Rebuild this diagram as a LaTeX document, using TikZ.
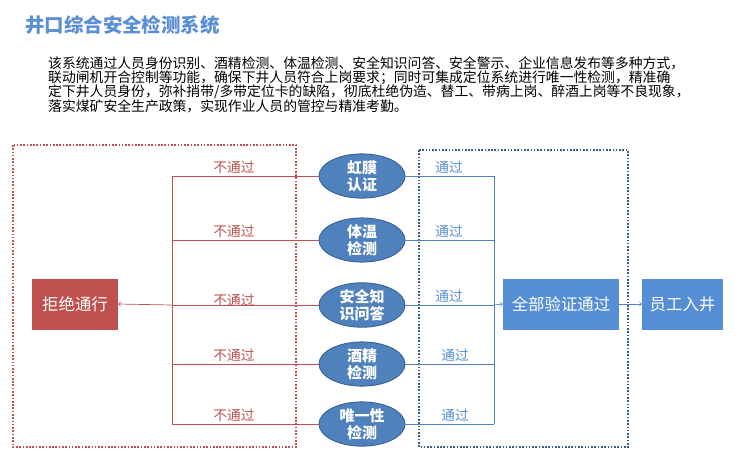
\documentclass[tikz,border=0pt]{standalone}
\usepackage{fontspec}
\usetikzlibrary{shapes.geometric}
\newfontfamily\cjk{Noto Sans CJK SC}
\definecolor{titleblue}{HTML}{5A8ED6}
\definecolor{ellblue}{HTML}{4F81BD}
\definecolor{ellborder}{HTML}{3A6292}
\definecolor{boxblue}{HTML}{558ED5}
\definecolor{boxred}{HTML}{C0504D}
\definecolor{frameblue}{HTML}{385D8A}
\begin{document}
\begin{tikzpicture}[x=0.03cm,y=-0.03cm,every node/.style={font=\cjk},
  para/.style={anchor=west,inner sep=0pt,font=\cjk\fontsize{11.8pt}{14pt}\selectfont},
  check/.style={ellipse,draw=ellborder,line width=0.8pt,fill=ellblue,text=white,minimum width=2.58cm,minimum height=1.26cm,inner sep=0pt,align=center,font=\cjk\bfseries\fontsize{12.8pt}{14.5pt}\selectfont},
  result/.style={fill=#1,text=white,minimum height=1.53cm,inner sep=0pt,font=\cjk\fontsize{14pt}{16pt}\selectfont},
  failline/.style={boxred,line width=0.6pt},
  passline/.style={ellblue,line width=0.6pt},
  faillbl/.style={anchor=base,inner sep=0pt,text=boxred,font=\cjk\fontsize{11.7pt}{13pt}\selectfont},
  passlbl/.style={anchor=base,inner sep=0pt,text=boxblue,font=\cjk\fontsize{11.7pt}{13pt}\selectfont}]
\useasboundingbox (0,0) rectangle (741,470);
% Title and text
\node[anchor=west,inner sep=0pt,text=titleblue,font=\cjk\bfseries\fontsize{16.6pt}{18pt}\selectfont] (title) at (25,25) {井口综合安全检测系统};
\node[para] (l1) at (48,63) {该系统通过人员身份识别、酒精检测、体温检测、安全知识问答、安全警示、企业信息发布等多种方式，};
\node[para] (l2) at (48,78) {联动闸机开合控制等功能，确保下井人员符合上岗要求；同时可集成定位系统进行唯一性检测，精准确};
\node[para] (l3) at (48,92) {定下井人员身份，弥补捎带/多带定位卡的缺陷，彻底杜绝伪造、替工、带病上岗、醉酒上岗等不良现象，};
\node[para] (l4) at (48,106) {落实煤矿安全生产政策，实现作业人员的管控与精准考勤。};
% Frames
\draw[boxred,line width=1.4pt,dash pattern=on 1.4pt off 1.4pt] (13,145) rectangle (296,447);
\draw[frameblue,line width=1.4pt,dash pattern=on 1.4pt off 1.4pt] (419,150) rectangle (628,447);
% Checks
\node[check] (iris) at (362,176) {虹膜\\认证};
\node[check] (temp) at (362,240) {体温\\检测};
\node[check] (quiz) at (362,305) {安全知\\识问答};
\node[check] (alco) at (362,364) {酒精\\检测};
\node[check] (uniq) at (362,424) {唯一性\\检测};
% Results
\node[result=boxred,minimum width=2.58cm] (reject) at (75,304) {拒绝通行};
\node[result=boxblue,minimum width=3.48cm] (pass) at (561,304) {全部验证通过};
\node[result=boxblue,minimum width=2.43cm] (enter) at (682.5,304) {员工入井};
\coordinate (rbus) at (172,0);
\coordinate (bbus) at (494,0);
% Fail side
\foreach \c in {iris,temp,quiz,alco,uniq}
  \draw[failline] (\c.west) -- (\c.west -| rbus);
\draw[failline] (iris.west -| rbus) -- (uniq.west -| rbus);
\draw[failline,->] (quiz.west -| rbus) -- (reject.east);
\node[faillbl] at (234,172) {不通过};
\node[faillbl] at (234,236) {不通过};
\node[faillbl] at (234,305) {不通过};
\node[faillbl] at (234,360) {不通过};
\node[faillbl] at (234,420) {不通过};
% Pass side
\foreach \c in {iris,temp,quiz,alco,uniq}
  \draw[passline] (\c.east) -- (\c.east -| bbus);
\draw[passline] (iris.east -| bbus) -- (uniq.east -| bbus);
\draw[passline,->] (quiz.east -| bbus) -- (pass.west);
\draw[passline,->] (pass.east) -- (enter.west);
\node[passlbl] at (449,172) {通过};
\node[passlbl] at (449,236) {通过};
\node[passlbl] at (449,301) {通过};
\node[passlbl] at (455,360) {通过};
\node[passlbl] at (455,420) {通过};
\end{tikzpicture}
\end{document}
